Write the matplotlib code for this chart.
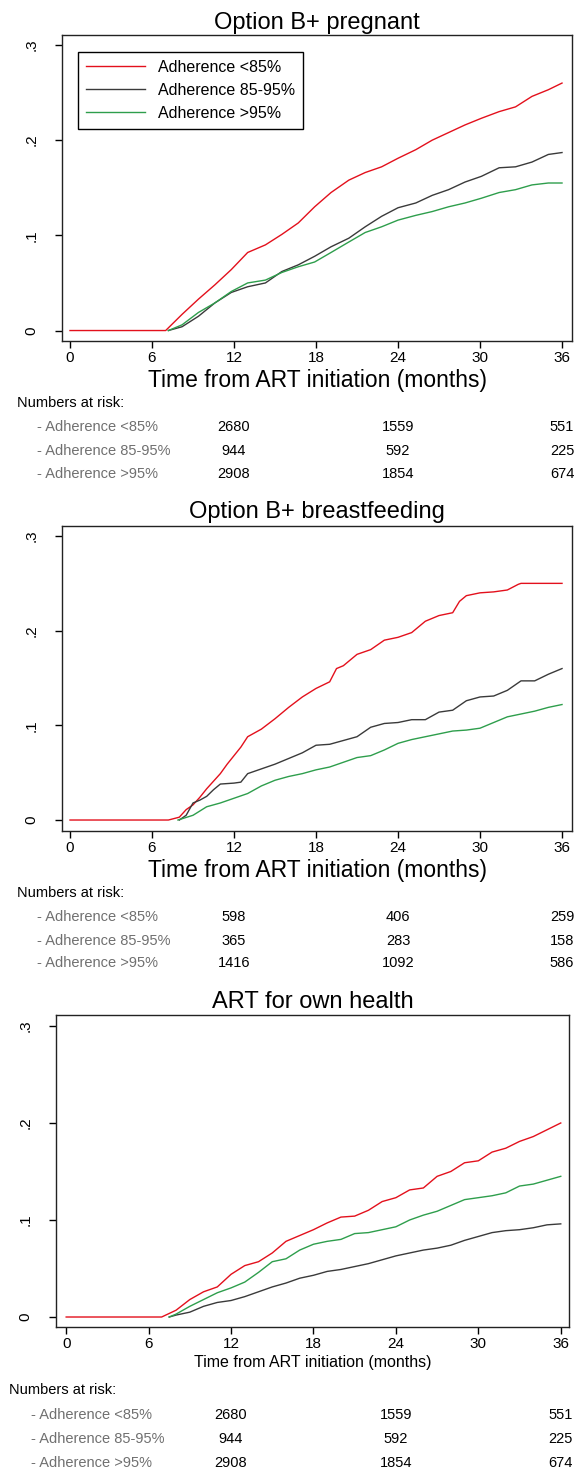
import numpy as np
import matplotlib
matplotlib.use("Agg")
import matplotlib.pyplot as plt
import matplotlib.transforms as mtransforms

plt.rcParams['font.family'] = ['Liberation Sans', 'DejaVu Sans']

# ---- data ----
titles = ["Option B+ pregnant", "Option B+ breastfeeding", "ART for own health"]
series_names = ["Adherence <85%", "Adherence 85-95%", "Adherence >95%"]
risk_months = [12, 24, 36]

# Option B+ pregnant
t1_red = [0, 7.0, 8.2, 9.4, 10.6, 11.8, 13.0, 14.3, 15.5, 16.7, 17.9, 19.1, 20.4,
          21.6, 22.8, 24.0, 25.3, 26.5, 27.7, 28.9, 30.1, 31.4, 32.6, 33.8, 35.0, 36.0]
red1 = [0, 0, .017, .033, .048, .064, .082, .090, .101, .113, .130, .145, .158,
        .166, .172, .181, .190, .200, .208, .216, .223, .230, .235, .246, .253, .260]
t1_oth = [7.2, 8.2, 9.4, 10.6, 11.8, 13.0, 14.3, 15.5, 16.7, 17.9, 19.1, 20.4,
          21.6, 22.8, 24.0, 25.3, 26.5, 27.7, 28.9, 30.1, 31.4, 32.6, 33.8, 35.0, 36.0]
blk1 = [0, .004, .015, .029, .040, .046, .050, .062, .069, .078, .088, .097,
        .109, .120, .129, .134, .142, .148, .156, .162, .171, .172, .177, .185, .187]
grn1 = [0, .006, .019, .029, .041, .050, .053, .061, .067, .072, .082, .093,
        .103, .109, .116, .121, .125, .130, .134, .139, .145, .148, .153, .155, .155]
risk1 = [[2680, 1559, 551], [944, 592, 225], [2908, 1854, 674]]

# Option B+ breastfeeding
t2_red = [0, 7.2, 8, 8.5, 9, 9.5, 10, 10.5, 11, 11.5, 12, 12.5, 13, 14, 15, 16, 17, 18, 19,
          19.5, 20, 21, 22, 23, 24, 25, 26, 27, 28, 28.5, 29, 30, 31, 32, 32.8, 33, 36]
red2 = [0, 0, .003, .011, .016, .024, .033, .041, .049, .059, .068, .077, .088, .096, .107,
        .119, .130, .139, .146, .160, .163, .175, .180, .190, .193, .198, .210, .216, .219,
        .231, .237, .240, .241, .243, .249, .250, .250]
t2_blk = [8, 8.5, 9, 9.5, 10, 10.5, 11, 12, 12.5, 13, 14, 15, 16, 17, 18, 19, 20, 21, 22,
          23, 24, 25, 26, 27, 28, 29, 30, 31, 32, 33, 34, 35, 36]
blk2 = [0, .005, .018, .021, .025, .032, .038, .039, .040, .049, .054, .059, .065, .071,
        .079, .080, .084, .088, .098, .102, .103, .106, .106, .114, .116, .126, .130, .131,
        .137, .147, .147, .154, .160]
t2_grn = [7.9, 9, 10, 11, 12, 13, 14, 15, 16, 17, 18, 19, 20, 21, 22, 23, 24, 25, 26, 27,
          28, 29, 30, 31, 32, 33, 34, 35, 36]
grn2 = [0, .005, .014, .018, .023, .028, .036, .042, .046, .049, .053, .056, .061, .066,
        .068, .074, .081, .085, .088, .091, .094, .095, .097, .103, .109, .112, .115, .119, .122]
risk2 = [[598, 406, 259], [365, 283, 158], [1416, 1092, 586]]

# ART for own health
t3_red = [0, 6.95, 8, 9, 10, 11, 12, 13, 14, 15, 16, 17, 18, 19, 20, 21, 22, 23, 24, 25,
          26, 27, 28, 29, 30, 31, 32, 33, 34, 35, 36]
red3 = [0, 0, .007, .018, .026, .031, .044, .053, .057, .066, .078, .084, .090, .097, .103,
        .104, .110, .119, .123, .131, .133, .145, .150, .159, .161, .170, .174, .181, .186,
        .193, .200]
t3_oth = [7.5, 8, 9, 10, 11, 12, 13, 14, 15, 16, 17, 18, 19, 20, 21, 22, 23, 24, 25, 26,
          27, 28, 29, 30, 31, 32, 33, 34, 35, 36]
blk3 = [0, .002, .005, .011, .015, .017, .021, .026, .031, .035, .040, .043, .047, .049,
        .052, .055, .059, .063, .066, .069, .071, .074, .079, .083, .087, .089, .090, .092,
        .095, .096]
grn3 = [0, .003, .011, .018, .025, .030, .036, .046, .057, .060, .069, .075, .078, .080,
        .086, .087, .090, .093, .100, .105, .109, .115, .121, .123, .125, .128, .135, .137,
        .141, .145]
risk3 = [[2680, 1559, 551], [944, 592, 225], [2908, 1854, 674]]

colors = ['#e3101c', '#3a3a3a', '#2e9e4c']

W, H = 576, 1472
fig = plt.figure(figsize=(W / 100, H / 100), dpi=100)

# pixel layout: axes box, limits, text rows
panels = [
    dict(box=(62, 35, 572, 341), xlim=(-0.585, 36.73), ylim=(-0.011, 0.3105),
         title_y=29, xlab_y=380, xlab_fs=16.5, nar=(16.6, 402.7), row_x=37,
         rows=(426.7, 450.7, 474)),
    dict(box=(62, 526, 572, 831), xlim=(-0.585, 36.73), ylim=(-0.0116, 0.3106),
         title_y=518, xlab_y=870, xlab_fs=16.5, nar=(16.6, 892.7), row_x=37,
         rows=(916.7, 940.7, 962.7)),
    dict(box=(56, 1015, 569, 1327), xlim=(-0.74, 36.6), ylim=(-0.0103, 0.3113),
         title_y=1008, xlab_y=1362.7, xlab_fs=11.5, nar=(9.2, 1390), row_x=31,
         rows=(1415, 1439.3, 1462.7)),
]
curves = [
    [(t1_red, red1), (t1_oth, blk1), (t1_oth, grn1)],
    [(t2_red, red2), (t2_blk, blk2), (t2_grn, grn2)],
    [(t3_red, red3), (t3_oth, blk3), (t3_oth, grn3)],
]
risks = [risk1, risk2, risk3]

for i, p in enumerate(panels):
    l, t, r, b = p['box']
    ax = fig.add_axes([l / W, 1 - b / H, (r - l) / W, (b - t) / H])
    for (tt, vv), c, name in zip(curves[i], colors, series_names):
        ax.plot(tt, vv, color=c, lw=1.0, label=name)
    ax.set_xlim(*p['xlim'])
    ax.set_ylim(*p['ylim'])
    ax.set_xticks([0, 6, 12, 18, 24, 30, 36])
    ax.set_yticks([0, .1, .2, .3])
    ax.set_yticklabels(['0', '.1', '.2', '.3'], rotation=90, va='center')
    ax.tick_params(axis='x', length=5, width=1, pad=2.5, labelsize=11)
    ax.tick_params(axis='y', length=5, width=1, pad=12, labelsize=11)
    for s in ax.spines.values():
        s.set_linewidth(1.0)
        s.set_color('#222222')

    fig.text((l + r) / 2 / W, 1 - p['title_y'] / H, titles[i], ha='center',
             va='baseline', fontsize=17)
    fig.text((l + r) / 2 / W, 1 - p['xlab_y'] / H, "Time from ART initiation (months)",
             ha='center', va='center', fontsize=p['xlab_fs'])
    fig.text(p['nar'][0] / W, 1 - p['nar'][1] / H, "Numbers at risk:", ha='left',
             va='center', fontsize=10.5)
    trans = mtransforms.blended_transform_factory(ax.transData, fig.transFigure)
    for j, name in enumerate(series_names):
        y = 1 - p['rows'][j] / H
        fig.text(p['row_x'] / W, y, "- " + name, ha='left', va='center',
                 fontsize=10.5, color='#707070')
        for m, n in zip(risk_months, risks[i][j]):
            ax.text(m, y, str(n), transform=trans, ha='center', va='center',
                    fontsize=10.5, clip_on=False)

    if i == 0:
        ax.legend(loc='upper left', bbox_to_anchor=(0.031, 0.945), borderaxespad=0,
                  fontsize=11.5, handlelength=3.7, handletextpad=0.8, labelspacing=0.5,
                  borderpad=0.5, fancybox=False, framealpha=1, edgecolor='black')

fig.savefig("out.png", dpi=100)
